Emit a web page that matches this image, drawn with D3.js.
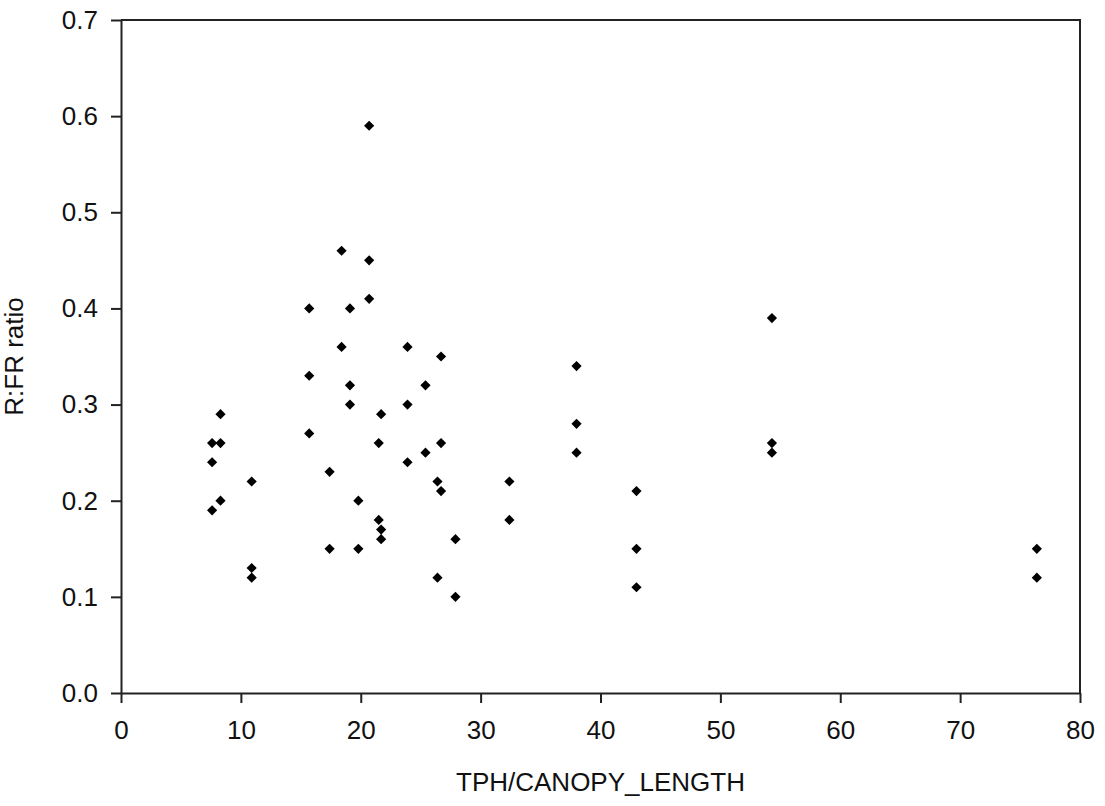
<!DOCTYPE html>
<html>
<head>
<meta charset="utf-8">
<script src="https://cdn.jsdelivr.net/npm/d3@7"></script>
<style>
  html, body { margin: 0; padding: 0; background: #fff; }
  svg { display: block; }
  text { font-family: Arial, "Liberation Sans", sans-serif; fill: #111; }
</style>
</head>
<body>
<svg id="chart" width="1105" height="806"></svg>
<script>
// Stand density per canopy length vs. red:far-red ratio
const tphPerCanopy = [
  20.7, 18.4, 20.7, 20.7, 15.7, 19.1, 18.4, 23.9, 26.7, 15.7,
  19.1, 25.4, 19.1, 23.9, 21.7, 8.3, 15.7, 7.6, 8.3, 21.5,
  26.7, 25.4, 7.6, 23.9, 17.4, 10.9, 26.4, 26.7, 8.3, 19.8,
  7.6, 21.5, 21.7, 21.7, 27.9, 17.4, 19.8, 10.9, 10.9, 26.4,
  27.9, 54.3, 38.0, 38.0, 38.0, 54.3, 54.3, 32.4, 32.4, 43.0,
  43.0, 43.0, 76.4, 76.4
];
const rfrRatio = [
  0.59, 0.46, 0.45, 0.41, 0.40, 0.40, 0.36, 0.36, 0.35, 0.33,
  0.32, 0.32, 0.30, 0.30, 0.29, 0.29, 0.27, 0.26, 0.26, 0.26,
  0.26, 0.25, 0.24, 0.24, 0.23, 0.22, 0.22, 0.21, 0.20, 0.20,
  0.19, 0.18, 0.17, 0.16, 0.16, 0.15, 0.15, 0.13, 0.12, 0.12,
  0.10, 0.39, 0.34, 0.28, 0.25, 0.26, 0.25, 0.22, 0.18, 0.21,
  0.15, 0.11, 0.15, 0.12
];
const xTicks = [0, 10, 20, 30, 40, 50, 60, 70, 80];
const yTicks = [0.0, 0.1, 0.2, 0.3, 0.4, 0.5, 0.6, 0.7];
const xTitle = "TPH/CANOPY_LENGTH";
const yTitle = "R:FR ratio";

const points = tphPerCanopy.map((v, i) => ({ x: v, y: rfrRatio[i] }));

const svg = d3.select("#chart");
const plotLeft = 121, plotRight = 1080, plotTop = 20, plotBottom = 693;

const x = d3.scaleLinear().domain([0, 80]).range([plotLeft, plotRight]);
const y = d3.scaleLinear().domain([0, 0.7]).range([plotBottom, plotTop]);

const axisColor = "#222";
const fontSize = "26px";

// Plot frame (top and right edges)
svg.append("path")
  .attr("d", `M${x(0)},${y(0.7)}H${x(80)}V${y(0)}`)
  .attr("fill", "none")
  .attr("stroke", axisColor)
  .attr("stroke-width", 2);

// Bottom axis
const gx = svg.append("g")
  .attr("transform", `translate(0,${plotBottom})`)
  .call(d3.axisBottom(x).tickValues(xTicks).tickFormat(d3.format("d"))
    .tickSize(10).tickPadding(18).tickSizeOuter(0));

// Left axis
const gy = svg.append("g")
  .attr("transform", `translate(${plotLeft},0)`)
  .call(d3.axisLeft(y).tickValues(yTicks).tickFormat(d3.format(".1f"))
    .tickSize(10).tickPadding(13).tickSizeOuter(0));

[gx, gy].forEach(g => {
  g.select(".domain").attr("stroke", axisColor).attr("stroke-width", 2);
  g.selectAll(".tick line").attr("stroke", axisColor).attr("stroke-width", 2);
  g.selectAll(".tick text")
    .style("font-family", 'Arial, "Liberation Sans", sans-serif')
    .style("font-size", fontSize)
    .attr("fill", "#111");
});

// Axis titles
svg.append("text")
  .attr("x", (plotLeft + plotRight) / 2)
  .attr("y", 791)
  .attr("text-anchor", "middle")
  .style("font-size", fontSize)
  .text(xTitle);

svg.append("text")
  .attr("transform", `translate(23,${(plotTop + plotBottom) / 2}) rotate(-90)`)
  .attr("text-anchor", "middle")
  .style("font-size", fontSize)
  .text(yTitle);

// Diamond markers
const diamond = d3.symbol().type(d3.symbolSquare).size(52);
svg.append("g")
  .selectAll("path")
  .data(points)
  .join("path")
  .attr("d", diamond)
  .attr("transform", d => `translate(${x(d.x)},${y(d.y)}) rotate(45)`)
  .attr("fill", "#000");
</script>
</body>
</html>
